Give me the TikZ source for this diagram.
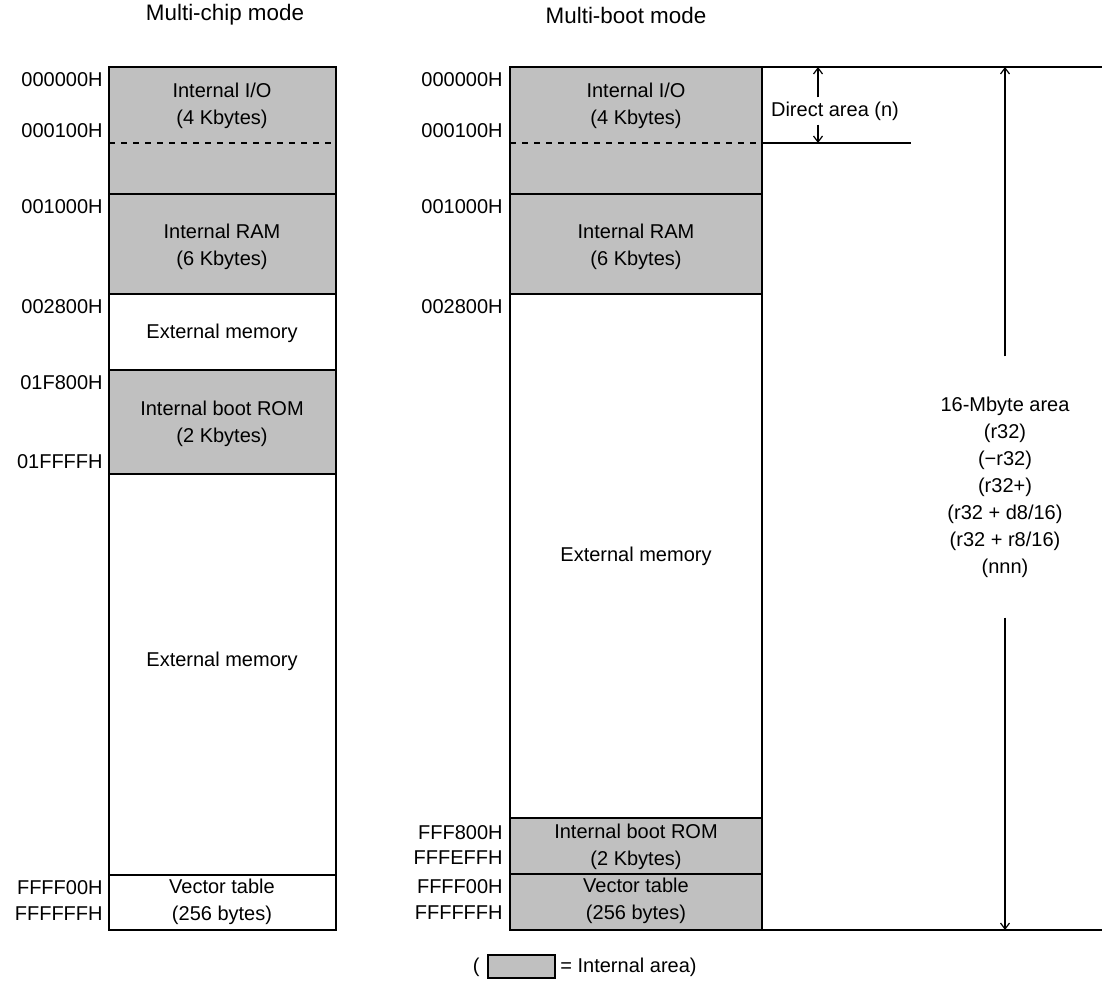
\documentclass[tikz,border=0pt]{standalone}
\usepackage{fontspec}
\setmainfont{Liberation Sans}
\usetikzlibrary{arrows.meta}
\definecolor{intgray}{RGB}{192,192,192}
\begin{document}
\begin{tikzpicture}[x=0.5pt,y=-0.5pt,
    seg/.style={line width=1pt},
    addr/.style={anchor=east,inner sep=0pt,font=\fontsize{10}{12}\selectfont},
    lbl/.style={align=center,inner sep=0pt,font=\fontsize{10}{13.5}\selectfont},
    dim/.style={line width=0.6pt,-{Straight Barb[length=3pt,width=4.5pt]}}]

    \useasboundingbox (0,0) rectangle (1102,992);

    \node[font=\fontsize{11.2}{13}\selectfont] (chiptitle) at (225,15) {Multi-chip mode};
    \node[font=\fontsize{11.2}{13}\selectfont] (boottitle) at (626,15) {Multi-boot mode};

    % multi-chip mode
    \fill[intgray] (109,67) rectangle (336,294);
    \fill[intgray] (109,370) rectangle (336,474);
    \draw[line width=0.6pt,dashed] (109,143) -- (336,143);
    \foreach \y in {194,294,370,474,875}
        \draw[seg] (109,\y) -- (336,\y);
    \draw[seg] (109,67) rectangle (336,930);

    \node[lbl] (cio) at (222,105.5) {Internal I/O\\(4 Kbytes)};
    \node[lbl] (cram) at (222,246.5) {Internal RAM\\(6 Kbytes)};
    \node[lbl] (cext1) at (222,333) {External memory};
    \node[lbl] (crom) at (222,424) {Internal boot ROM\\(2 Kbytes)};
    \node[lbl] (cext2) at (222,661) {External memory};
    \node[lbl] (cvec) at (222,901.5) {Vector table\\(256 bytes)};

    \node[addr] (ca1) at (103,80) {000000H};
    \node[addr] (ca2) at (103,131) {000100H};
    \node[addr] (ca3) at (103,207) {001000H};
    \node[addr] (ca4) at (103,307) {002800H};
    \node[addr] (ca5) at (103,383) {01F800H};
    \node[addr] (ca6) at (103,462) {01FFFFH};
    \node[addr] (ca7) at (103,888) {FFFF00H};
    \node[addr] (ca8) at (103,914) {FFFFFFH};

    % multi-boot mode
    \fill[intgray] (510,67) rectangle (762,294);
    \fill[intgray] (510,818) rectangle (762,930);
    \draw[line width=0.6pt,dashed] (510,143) -- (762,143);
    \foreach \y in {194,294,818,874}
        \draw[seg] (510,\y) -- (762,\y);
    \draw[seg] (510,67) rectangle (762,930);
    \draw[seg] (762,67) -- (1102,67);
    \draw[seg] (762,143) -- (911,143);
    \draw[seg] (762,930) -- (1102,930);

    \node[lbl] (bio) at (636,105.5) {Internal I/O\\(4 Kbytes)};
    \node[lbl] (bram) at (636,246.5) {Internal RAM\\(6 Kbytes)};
    \node[lbl] (bext) at (636,556) {External memory};
    \node[lbl] (brom) at (636,846.5) {Internal boot ROM\\(2 Kbytes)};
    \node[lbl] (bvec) at (636,900.5) {Vector table\\(256 bytes)};

    \node[addr] (ba1) at (503,80) {000000H};
    \node[addr] (ba2) at (503,131) {000100H};
    \node[addr] (ba3) at (503,207) {001000H};
    \node[addr] (ba4) at (503,307) {002800H};
    \node[addr] (ba5) at (503,833) {FFF800H};
    \node[addr] (ba6) at (503,858) {FFFEFFH};
    \node[addr] (ba7) at (503,887) {FFFF00H};
    \node[addr] (ba8) at (503,913) {FFFFFFH};

    % area arrows
    \coordinate (dtop) at (818,67);
    \coordinate (dbot) at (818,143);
    \node[lbl,inner ysep=2pt] (direct) at (835,111) {Direct area (n)};
    \draw[dim] (direct.north -| dtop) -- (dtop);
    \draw[dim] (direct.south -| dbot) -- (dbot);

    \coordinate (mtop) at (1005,67);
    \coordinate (mbot) at (1005,930);
    \node[lbl,inner ysep=20pt] (mbyte) at (1005,487)
        {16-Mbyte area\\(r32)\\(−r32)\\(r32+)\\(r32 + d8/16)\\(r32 + r8/16)\\(nnn)};
    \draw[dim] (mbyte.north) -- (mtop);
    \draw[dim] (mbyte.south) -- (mbot);

    % legend
    \node[lbl,anchor=east] (lparen) at (480,967) {(};
    \draw[seg,fill=intgray] (488,955) rectangle (555,978);
    \node[lbl,anchor=west] (legend) at (560,967) {= Internal area)};

\end{tikzpicture}
\end{document}
